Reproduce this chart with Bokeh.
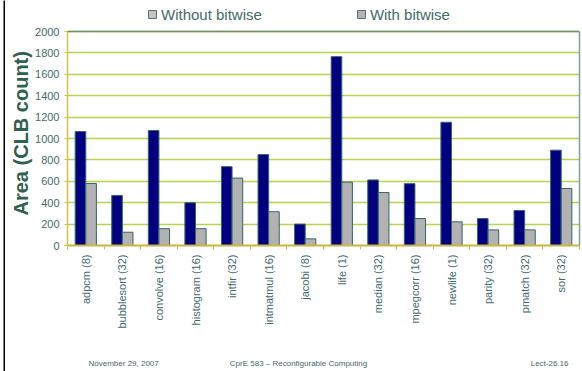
import math
from bokeh.plotting import figure
from bokeh.models import (Range1d, FixedTicker, ColumnDataSource, Legend, LegendItem,
                          Label, LinearAxis, Span, Title)
from bokeh.transform import dodge
from bokeh.layouts import row, column
from bokeh.embed import file_html
from bokeh.resources import INLINE

categories = ["adpcm (8)", "bubblesort (32)", "convolve (16)", "histogram (16)",
              "intfir (32)", "intmatmul (16)", "jacobi (8)", "life (1)",
              "median (32)", "mpegcorr (16)", "newlife (1)", "parity (32)",
              "pmatch (32)", "sor (32)"]
without_bitwise = [1065, 468, 1075, 400, 737, 850, 200, 1765, 613, 578, 1152, 252, 327, 891]
with_bitwise = [580, 124, 157, 157, 630, 316, 62, 592, 495, 252, 221, 146, 146, 533]
y_ticks = [0, 200, 400, 600, 800, 1000, 1200, 1400, 1600, 1800, 2000]
Y_MAX = 2000
footer_texts = ["November 29, 2007", "CprE 583 \u2013 Reconfigurable Computing", "Lect-26.16"]

TEXT = "#3F6B6B"
FONT = "Liberation Sans"

centers = [i + 0.5 for i in range(len(categories))]
src = ColumnDataSource(dict(x=centers, wo=without_bitwise, w=with_bitwise))

# frame reaches the top of the canvas so that the legend sits inside it
FRAME_H = 245
PLOT_H = 214
p = figure(width=577, height=350, output_backend="svg", toolbar_location=None,
           x_range=Range1d(0, len(categories)),
           y_range=Range1d(0, Y_MAX * FRAME_H / PLOT_H),
           min_border_left=62, min_border_right=3, min_border_top=0,
           min_border_bottom=105)
p.outline_line_color = None

bw = 0.29
r1 = p.vbar(x=dodge("x", -bw / 2), top="wo", width=bw, source=src,
            fill_color="#000080", line_color="#336666", line_width=1)
r2 = p.vbar(x=dodge("x", bw / 2), top="w", width=bw, source=src,
            fill_color="#B2B2B2", line_color="#336666", line_width=1)

# legend proxies (both swatches are grey in the reference)
d1 = p.vbar(x="x", top="wo", width=bw, source=src, fill_color="#C4C4C4",
            line_color="#5A7070", visible=False)
d2 = p.vbar(x="x", top="w", width=bw, source=src, fill_color="#B4B4B4",
            line_color="#5A7070", visible=False)

p.xgrid.grid_line_color = None
p.ygrid.ticker = FixedTicker(ticks=y_ticks)
p.ygrid.grid_line_color = "#A8CC30"
p.ygrid.grid_line_width = 1.5
p.ygrid.grid_line_alpha = 0.85

p.add_layout(Span(location=Y_MAX, dimension="width", line_color="#6F9070",
                  line_width=1.5))

xa = p.xaxis[0]
xa.ticker = FixedTicker(ticks=centers, minor_ticks=list(range(len(categories) + 1)))
xa.major_label_overrides = {c: n for c, n in zip(centers, categories)}
xa.major_label_orientation = math.pi / 2
xa.major_tick_line_color = None
xa.minor_tick_line_color = "#D4BC30"
xa.minor_tick_out = 4
xa.minor_tick_in = 0
xa.axis_line_color = "#CDB440"
xa.axis_line_width = 2
xa.major_label_text_font = FONT
xa.major_label_text_font_size = "11px"
xa.major_label_text_color = TEXT
xa.major_label_standoff = 3

ya = p.yaxis[0]
ya.bounds = (0, Y_MAX)
ya.ticker = FixedTicker(ticks=y_ticks)
ya.axis_line_color = "#D8C040"
ya.axis_line_width = 1.5
ya.major_tick_line_color = "#D8C040"
ya.major_tick_out = 3
ya.major_tick_in = 2
ya.minor_tick_line_color = None
ya.major_label_text_font = FONT
ya.major_label_text_font_size = "11px"
ya.major_label_text_color = TEXT
ya.major_label_standoff = 5

p.add_layout(Title(text="Area (CLB count)", align="left", offset=30,
                   text_font=FONT, text_font_style="bold", text_font_size="20px",
                   text_color="#2F6050", standoff=2), "left")

ra = LinearAxis(bounds=(0, Y_MAX), ticker=FixedTicker(ticks=[]),
                axis_line_color="#7F9F9F", axis_line_width=1.5,
                major_tick_line_color=None, minor_tick_line_color=None,
                major_label_text_font_size="0px")
p.add_layout(ra, "right")

legend = Legend(items=[LegendItem(label="Without bitwise", renderers=[d1]),
                       LegendItem(label="With bitwise", renderers=[d2])],
                orientation="horizontal", location=(80, 222),
                label_text_font=FONT, label_text_font_size="15px",
                label_text_color=TEXT, glyph_width=10, glyph_height=10,
                label_standoff=4, label_height=18, spacing=94,
                padding=0, margin=0, inactive_fill_alpha=0,
                border_line_color=None, background_fill_alpha=0)
p.add_layout(legend, "center")

footer = figure(width=577, height=21, output_backend="svg", toolbar_location=None,
                min_border=0, outline_line_color=None,
                x_range=Range1d(0, 1), y_range=Range1d(0, 1))
footer.axis.visible = False
footer.grid.visible = False
for txt, x, align in zip(footer_texts, [21, 231, 501], ["left", "center", "right"]):
    footer.add_layout(Label(x=x, y=8, x_units="screen", y_units="screen", text=txt,
                            text_font=FONT, text_font_size="8px", text_color=TEXT,
                            text_align=align, text_baseline="middle"))

bar = figure(width=2, height=371, output_backend="svg", toolbar_location=None,
             min_border=0, background_fill_color="black", border_fill_color="black",
             outline_line_color=None)
bar.axis.visible = False
bar.grid.visible = False
spacer = figure(width=3, height=371, output_backend="svg", toolbar_location=None,
                min_border=0, outline_line_color=None)
spacer.axis.visible = False
spacer.grid.visible = False

layout = row(spacer, bar, column(p, footer, spacing=0), spacing=0)
open("out.html", "w").write(file_html(layout, INLINE))
